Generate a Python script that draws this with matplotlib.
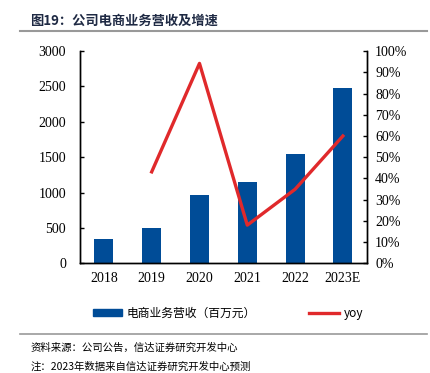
import matplotlib
matplotlib.use('Agg')
import matplotlib.pyplot as plt
from matplotlib.lines import Line2D
from matplotlib.patches import Patch

plt.rcParams['font.family'] = ['Liberation Serif', 'Noto Sans CJK SC', 'DejaVu Sans']

# data
years = ['2018', '2019', '2020', '2021', '2022', '2023E']
revenue = [345, 497, 966, 1144, 1545, 2472]
yoy_years = ['2019', '2020', '2021', '2022', '2023E']
yoy = [43.1, 94.2, 18.0, 34.9, 60.0]

bar_color = '#004C97'
line_color = '#E0292B'
cjk = ['Noto Sans CJK SC', 'DejaVu Sans']

fig = plt.figure(figsize=(4.30, 3.73), dpi=100)
ax = fig.add_axes([0.186, 0.294, 0.667, 0.569])
ax2 = ax.twinx()

x = list(range(len(years)))
ax.bar(x, revenue, width=0.4, color=bar_color, zorder=2)
ax.set_xlim(-0.5, len(years) - 0.5)
ax.set_ylim(0, 3000)
ax.set_yticks(range(0, 3001, 500))
ax.set_xticks(x)
ax.set_xticklabels(years)

xi = [years.index(y) for y in yoy_years]
ax2.plot(xi, [v / 100 for v in yoy], color=line_color, lw=2.4, zorder=3)
ax2.set_ylim(0, 1.0)
ax2.set_yticks([i / 10 for i in range(11)])
ax2.set_yticklabels(['%d%%' % (i * 10) for i in range(11)])

for a in (ax, ax2):
    a.spines['top'].set_visible(False)
    for s in a.spines.values():
        s.set_linewidth(1.0)
    a.tick_params(labelsize=10, width=1.0, length=3)
ax.tick_params(axis='y', direction='in', pad=10)
ax.tick_params(axis='x', length=0, pad=6)
ax2.tick_params(axis='y', direction='in', pad=6)

# title and rules
fig.text(0.07, 0.945, '图19：公司电商业务营收及增速', family=cjk, fontsize=9.5,
         fontweight='bold', color='#1F2A44', va='center')
fig.add_artist(Line2D([0.047, 0.993], [0.917, 0.917], color='#999999', lw=1.5))
fig.add_artist(Line2D([0.047, 0.993], [0.105, 0.105], color='#999999', lw=1.2))

handles = [Patch(color=bar_color), Line2D([], [], color=line_color, lw=2.4)]
fig.legend(handles, ['电商业务营收（百万元）', 'yoy'], loc='center',
           bbox_to_anchor=(0.53, 0.16), ncol=2, frameon=False,
           prop={'family': cjk, 'size': 8.5}, handlelength=2.5,
           handleheight=0.5, columnspacing=4.5, handletextpad=0.4)

fig.text(0.07, 0.067, '资料来源：公司公告，信达证券研究开发中心', family=cjk,
         fontsize=7.5, va='center')
fig.text(0.07, 0.004, '注：2023年数据来自信达证券研究开发中心预测', family=cjk,
         fontsize=7.5, va='bottom')

fig.savefig('out.png', dpi=100)
